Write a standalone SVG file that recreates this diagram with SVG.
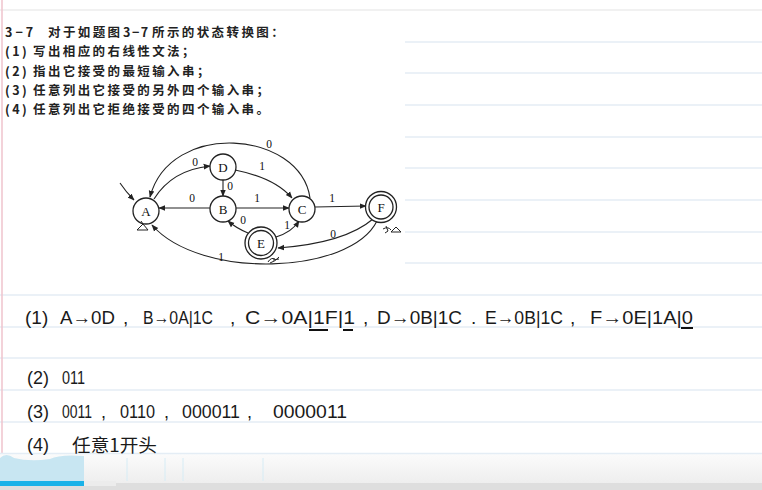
<svg xmlns="http://www.w3.org/2000/svg" width="762" height="490" viewBox="0 0 762 490">
<defs>
<style>
.rule{stroke:#e4edf5;stroke-width:1.5}
.cn{font-family:"Noto Sans CJK SC","Noto Sans",sans-serif;font-size:12.5px;font-weight:bold;fill:#222;letter-spacing:2.4px}
.st{fill:#fff;stroke:#222;stroke-width:1.3}
.lb{font-family:"Liberation Serif",serif;font-size:13px;fill:#111;text-anchor:middle}
.el{font-family:"Liberation Serif",serif;font-size:11.5px;fill:#111;text-anchor:middle}
.ed{fill:none;stroke:#222;stroke-width:1.1;marker-end:url(#ah)}
.hw{font-family:"Liberation Sans",sans-serif;fill:#1a1a1a}
.mk{fill:none;stroke:#222;stroke-width:1}
</style>
<marker id="ah" viewBox="0 0 10 10" refX="9" refY="5" markerWidth="7" markerHeight="7" markerUnits="userSpaceOnUse" orient="auto">
<path d="M0,1 L10,5 L0,9 Z" fill="#222"/>
</marker>
<linearGradient id="bot" x1="0" y1="0" x2="0" y2="1">
<stop offset="0" stop-color="#fbfbfb"/>
<stop offset="1" stop-color="#eeeeee"/>
</linearGradient>
</defs>
<rect width="762" height="490" fill="#fff"/>
<g id="rules">
<line class="rule" x1="0" y1="10" x2="762" y2="10" style="stroke:#ececec"/>
<line class="rule" x1="405" y1="42" x2="762" y2="42"/>
<line class="rule" x1="405" y1="73" x2="762" y2="73"/>
<line class="rule" x1="405" y1="105" x2="762" y2="105"/>
<line class="rule" x1="405" y1="137" x2="762" y2="137"/>
<line class="rule" x1="405" y1="168" x2="762" y2="168"/>
<line class="rule" x1="405" y1="200" x2="762" y2="200"/>
<line class="rule" x1="405" y1="232" x2="762" y2="232"/>
<line class="rule" x1="405" y1="263" x2="762" y2="263"/>
<line class="rule" x1="0" y1="295" x2="762" y2="295"/>
<line class="rule" x1="0" y1="327" x2="762" y2="327"/>
<line class="rule" x1="0" y1="358" x2="762" y2="358"/>
<line class="rule" x1="0" y1="390" x2="762" y2="390"/>
<line class="rule" x1="0" y1="422" x2="762" y2="422"/>
<line x1="2" y1="0" x2="2" y2="490" stroke="#efc3cc" stroke-width="1.5"/>
</g>
<g id="bottom-bar">
<rect x="0" y="454" width="762" height="29" fill="url(#bot)"/>
<line class="rule" x1="0" y1="453.5" x2="762" y2="453.5"/>
<path d="M0,458 Q6,452 14,458 Q30,462 50,459 Q60,454 84,456 L84,481 L0,481 Z" fill="#c8e6f2"/>
<line x1="127" y1="458" x2="127" y2="481" stroke="#d6ecf5"/>
<line x1="165" y1="458" x2="165" y2="481" stroke="#d6ecf5"/>
<line x1="183" y1="458" x2="183" y2="481" stroke="#d6ecf5"/>
<line x1="263" y1="458" x2="263" y2="481" stroke="#d6ecf5"/>
<rect x="0" y="483" width="762" height="7" fill="#dedede"/>
<rect x="84" y="481" width="32" height="5" fill="#ececec"/>
<rect x="0" y="481" width="84" height="5" fill="#19b2e8"/>
</g>
<g id="question">
<text class="cn" y="37"><tspan x="5" style="letter-spacing:3px">3−7</tspan><tspan x="48">对于如题图</tspan><tspan x="123" style="letter-spacing:1.5px">3−7</tspan><tspan x="152">所示的状态转换图：</tspan></text>
<text class="cn" y="56"><tspan x="5">(1)</tspan><tspan x="33">写出相应的右线性文法；</tspan></text>
<text class="cn" y="76"><tspan x="5">(2)</tspan><tspan x="33">指出它接受的最短输入串；</tspan></text>
<text class="cn" y="95"><tspan x="5">(3)</tspan><tspan x="33">任意列出它接受的另外四个输入串；</tspan></text>
<text class="cn" y="114"><tspan x="5">(4)</tspan><tspan x="33">任意列出它拒绝接受的四个输入串。</tspan></text>
</g>
<g id="connectors">
<path class="ed" d="M120,183 Q126,192 134,200"/>
<path class="ed" d="M154,199 Q172,170 210,166"/>
<path class="ed" d="M310,198 C300,130 170,120 150,197"/>
<path class="ed" d="M235,170 Q275,178 292,198"/>
<path class="ed" d="M223,180 L223,196"/>
<path class="ed" d="M210,208 L159,208"/>
<path class="ed" d="M236,208 L289,208"/>
<path class="ed" d="M315,207 L366,206"/>
<path class="ed" d="M248,233 Q236,228 228,221"/>
<path class="ed" d="M276,237 Q292,232 299,221"/>
<path class="ed" d="M373,219 Q345,243 278,248"/>
<path class="ed" d="M377,221 C350,275 200,280 152,225"/>
<text class="el" x="195" y="166">0</text>
<text class="el" x="269" y="148">0</text>
<text class="el" x="262" y="170">1</text>
<text class="el" x="230" y="190">0</text>
<text class="el" x="192" y="202">0</text>
<text class="el" x="257" y="202">1</text>
<text class="el" x="332" y="202">1</text>
<text class="el" x="243" y="224">0</text>
<text class="el" x="287" y="229">1</text>
<text class="el" x="333" y="238">0</text>
<text class="el" x="221" y="261">1</text>
</g>
<g id="node-A"><circle class="st" cx="146" cy="211" r="13"/><text class="lb" x="146" y="215.5">A</text></g>
<g id="node-D"><circle class="st" cx="223" cy="167" r="13"/><text class="lb" x="223" y="171.5">D</text></g>
<g id="node-B"><circle class="st" cx="223" cy="209" r="13"/><text class="lb" x="223" y="213.5">B</text></g>
<g id="node-C"><circle class="st" cx="302" cy="209" r="13"/><text class="lb" x="302" y="213.5">C</text></g>
<g id="node-E"><circle class="st" cx="261" cy="243" r="16"/><circle class="st" cx="261" cy="243" r="12.5"/><text class="lb" x="261" y="247.5">E</text></g>
<g id="node-F"><circle class="st" cx="381" cy="207" r="15.5"/><circle class="st" cx="381" cy="207" r="12"/><text class="lb" x="381" y="211.5">F</text></g>
<g id="marks">
<path class="mk" d="M137,230 L143,224 L148,230 Z M143,224 L141,221"/>
<path class="mk" d="M383,229 Q388,226 391,230 M386,226 L388,231 L385,233 M391,232 L396,227 L401,232 Z"/>
<path class="mk" d="M268,262 Q271,257 275,259 M270,263 Q276,261 279,257 M273,260 L279,259"/>
</g>
<g id="answers">
<text class="hw" style="font-size:19px" y="324" x="25">(1)</text>
<text class="hw" style="font-size:19px" y="324" x="60" textLength="55" lengthAdjust="spacingAndGlyphs">A→0D</text>
<text class="hw" style="font-size:19px" y="324" x="123">,</text>
<text class="hw" style="font-size:19px" y="324" x="143" textLength="70" lengthAdjust="spacingAndGlyphs">B→0A|1C</text>
<text class="hw" style="font-size:19px" y="324" x="230">,</text>
<text class="hw" style="font-size:19px" y="324" x="245" textLength="110" lengthAdjust="spacingAndGlyphs">C→0A|1F|1</text>
<text class="hw" style="font-size:19px" y="324" x="363">,</text>
<text class="hw" style="font-size:19px" y="324" x="377" textLength="85" lengthAdjust="spacingAndGlyphs">D→0B|1C</text>
<text class="hw" style="font-size:19px" y="324" x="471">.</text>
<text class="hw" style="font-size:19px" y="324" x="485" textLength="78" lengthAdjust="spacingAndGlyphs">E→0B|1C</text>
<text class="hw" style="font-size:19px" y="324" x="570">,</text>
<text class="hw" style="font-size:19px" y="324" x="590" textLength="103" lengthAdjust="spacingAndGlyphs">F→0E|1A|0</text>
<path d="M309,330 L328,330 M343,330 L353,330 M681,328 L693,328" stroke="#111" stroke-width="2" fill="none"/>
<text class="hw" style="font-size:18px" y="384" x="27">(2)</text>
<text class="hw" style="font-size:18px" y="384" x="62" textLength="23" lengthAdjust="spacingAndGlyphs">011</text>
<text class="hw" style="font-size:18px" y="418" x="27">(3)</text>
<text class="hw" style="font-size:18px" y="418" x="62" textLength="30" lengthAdjust="spacingAndGlyphs">0011</text>
<text class="hw" style="font-size:18px" y="418" x="101">,</text>
<text class="hw" style="font-size:18px" y="418" x="120" textLength="35" lengthAdjust="spacingAndGlyphs">0110</text>
<text class="hw" style="font-size:18px" y="418" x="164">,</text>
<text class="hw" style="font-size:18px" y="418" x="182" textLength="58" lengthAdjust="spacingAndGlyphs">000011</text>
<text class="hw" style="font-size:18px" y="418" x="247">,</text>
<text class="hw" style="font-size:18px" y="418" x="273" textLength="74" lengthAdjust="spacingAndGlyphs">0000011</text>
<text class="hw" style="font-size:18px" y="451" x="27">(4)</text>
<text style="font-family:'Noto Sans CJK SC','Noto Sans',sans-serif;font-size:18px;fill:#1a1a1a" y="452" x="72" textLength="85" lengthAdjust="spacingAndGlyphs">任意1开头</text>
</g>
</svg>
